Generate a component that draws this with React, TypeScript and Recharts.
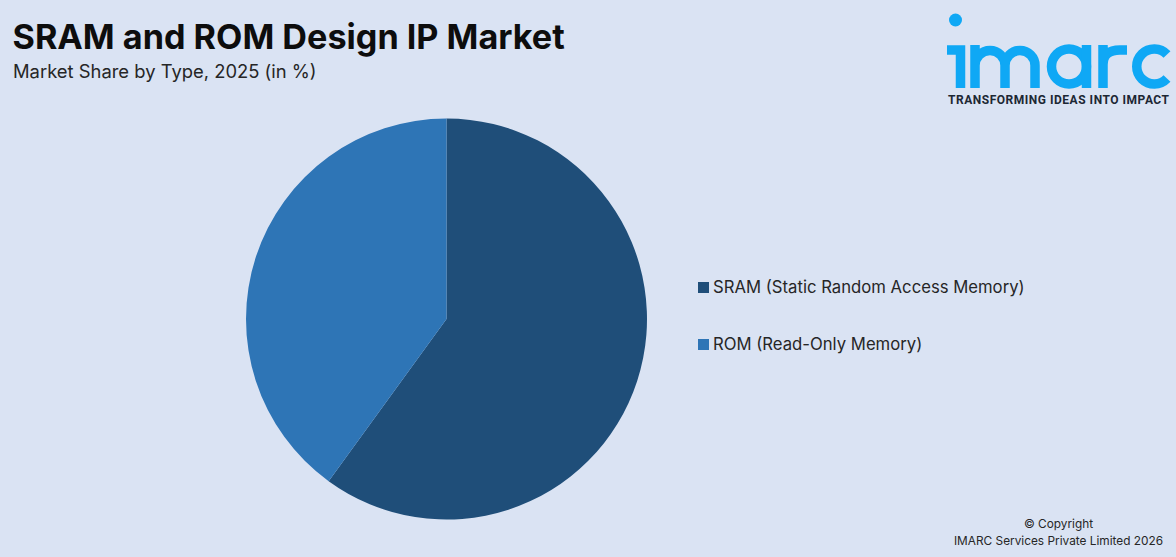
import React from "react";
import { PieChart, Pie, Cell, Legend } from "recharts";

const categories = ["SRAM (Static Random Access Memory)", "ROM (Read-Only Memory)"];
const shares = [60, 40];
const colors = ["#1f4e79", "#2e75b6"];
const titleText = "SRAM and ROM Design IP Market";
const subtitleText = "Market Share by Type, 2025 (in %)";
const logoTagline = "TRANSFORMING IDEAS INTO IMPACT";
const copyrightLines = ["© Copyright", "IMARC Services Private Limited 2026"];

const rows = categories.map((name, i) => ({ name, value: shares[i] }));
const font = "Inter, 'Noto Sans', sans-serif";

function LegendList() {
  return (
    <div>
      {categories.map((c, i) => (
        <div key={c} style={{ position: "absolute", left: 0, top: i * 57, height: 24, display: "flex", alignItems: "center", whiteSpace: "nowrap", fontFamily: font, fontSize: 16.7, color: "#262626" }}>
          <span style={{ width: 11, height: 11, background: colors[i], display: "inline-block", marginRight: 4 }} />
          {c}
        </div>
      ))}
    </div>
  );
}

function Logo() {
  const b = "#0fa8f5";
  return (
    <svg width={246} height={120} style={{ position: "absolute", left: 930, top: 0 }}>
      <circle cx={25.5} cy={20} r={6.5} fill={b} />
      <g fill="none" stroke={b} strokeWidth={9.5}>
        <path d="M17 50H30.5V88" />
        <path d="M45 88V45M45 65.5a15 15 0 0 1 30 0V88M75 65.5a15 15 0 0 1 30 0V88" />
        <circle cx={139} cy={66.5} r={17.5} />
        <path d="M156.5 45V88" />
        <path d="M173 88V45M173 65Q173 50 190 50H197" />
        <path d="M237 54.5A17.5 17.5 0 1 0 237 78.5" />
      </g>
      <text x={18} y={104} fontFamily="Roboto, sans-serif" fontWeight={700} fontSize={12} fill="#1c2733" letterSpacing={0.52}>{logoTagline}</text>
    </svg>
  );
}

export default function App() {
  return (
    <div style={{ position: "absolute", left: 0, top: 0, width: 1176, height: 557, background: "#dae3f3", overflow: "hidden" }}>
      <PieChart width={1176} height={557} margin={{ top: 0, right: 0, bottom: 0, left: 0 }} style={{ position: "absolute", left: 0, top: 0 }}>
        <Pie data={rows} dataKey="value" nameKey="name" cx={446.5} cy={319} outerRadius={200.5} startAngle={90} endAngle={-270} stroke="none" isAnimationActive={false}>
          {rows.map((r, i) => <Cell key={r.name} fill={colors[i]} />)}
        </Pie>
        <Legend content={<LegendList />} wrapperStyle={{ position: "absolute", left: 698, top: 275, width: 400 }} />
      </PieChart>
      <div style={{ position: "absolute", left: 12.5, top: 16, fontFamily: font, fontWeight: 700, fontSize: 34.2, color: "#0d0d0d", whiteSpace: "nowrap" }}>{titleText}</div>
      <div style={{ position: "absolute", left: 13, top: 60, fontFamily: font, fontSize: 18.4, color: "#262626", whiteSpace: "nowrap" }}>{subtitleText}</div>
      <Logo />
      {copyrightLines.map((t, i) => (
        <div key={t} style={{ position: "absolute", width: 290, left: 913.5, top: 517 + i * 17, textAlign: "center", fontFamily: font, fontSize: 11.85, color: "#262626", whiteSpace: "nowrap" }}>{t}</div>
      ))}
    </div>
  );
}
